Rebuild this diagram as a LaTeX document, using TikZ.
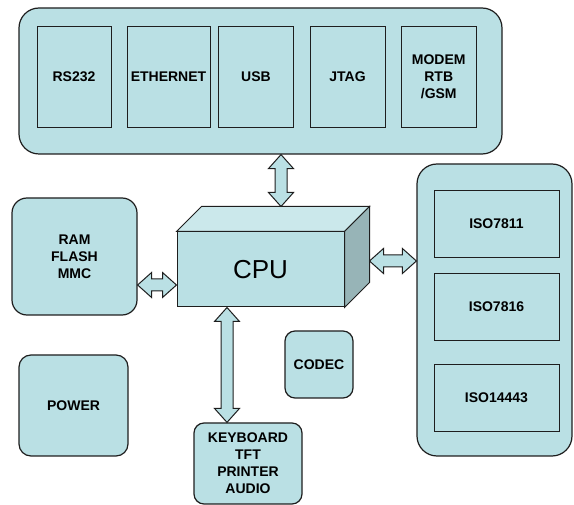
\documentclass[tikz,border=0pt]{standalone}
\usepackage{fontspec}
\setmainfont{Liberation Sans}
\usetikzlibrary{calc}
\definecolor{boxfill}{RGB}{186,224,228}
\definecolor{topfill}{RGB}{203,232,235}
\definecolor{sidefill}{RGB}{151,180,183}
\definecolor{edge}{RGB}{30,30,30}
\tikzset{
 every node/.style={font=\bfseries\fontsize{14}{17}\selectfont, align=center, inner sep=0pt},
 cont/.style={draw=edge, fill=boxfill, line width=1.2pt, rounded corners=20pt},
 rbox/.style={draw=edge, fill=boxfill, line width=1.2pt, rounded corners=#1},
 ibox/.style={draw=edge, fill=boxfill, line width=0.9pt},
 face/.style={draw=edge, line width=1pt, line join=miter},
 barrow/.style={draw=edge, fill=boxfill, line width=1pt, line join=miter},
}
\newcommand{\bahl}{14pt}
\newcommand{\bahw}{12.5pt}
\newcommand{\basw}{6pt}
\newcommand{\blockarrow}[2]{%
 \coordinate (ba1) at ($(#1)!\bahl!(#2)$);
 \coordinate (ba2) at ($(#2)!\bahl!(#1)$);
 \draw[barrow] (#1) -- ($(ba1)!\bahw!90:(#2)$) -- ($(ba1)!\basw!90:(#2)$)
   -- ($(ba2)!\basw!-90:(#1)$) -- ($(ba2)!\bahw!-90:(#1)$) -- (#2)
   -- ($(ba2)!\bahw!90:(#1)$) -- ($(ba2)!\basw!90:(#1)$)
   -- ($(ba1)!\basw!-90:(#2)$) -- ($(ba1)!\bahw!-90:(#2)$) -- cycle;
}
\begin{document}
\begin{tikzpicture}[x=1pt,y=-1pt]
\useasboundingbox (0,0) rectangle (574,505);
% top interface container
\node[cont, minimum width=483pt, minimum height=146pt] (ifc) at (260.5,81) {};
\node[ibox, minimum width=74pt, minimum height=101pt] (rs) at (74,76.5) {\raisebox{-4pt}{RS232}};
\node[ibox, minimum width=83pt, minimum height=101pt] (eth) at (168.5,76.5) {ETHERNET};
\node[ibox, minimum width=75pt, minimum height=101pt] (usb) at (256,76.5) {USB};
\node[ibox, minimum width=75pt, minimum height=101pt] (jtag) at (347.5,76.5) {JTAG};
\node[ibox, minimum width=74.5pt, minimum height=101pt] (modem) at (438.75,76.5) {MODEM\\RTB\\/GSM};
% CPU
\node[draw=edge, fill=boxfill, line width=1pt, minimum width=167pt, minimum height=75pt,
      font=\mdseries\fontsize{26}{30}\selectfont] (cpu) at (260.5,269.5) {CPU};
\filldraw[face, fill=topfill] (cpu.north west) -- ++(25,-25) -- ($(cpu.north east)+(25,-25)$) -- (cpu.north east) -- cycle;
\filldraw[face, fill=sidefill] (cpu.north east) -- ++(25,-25) -- ($(cpu.south east)+(25,-25)$) -- (cpu.south east) -- cycle;
% left blocks
\node[rbox=15pt, minimum width=125pt, minimum height=117pt] (ram) at (74.5,256.5) {RAM\\FLASH\\MMC};
\node[rbox=12pt, minimum width=109pt, minimum height=101pt] (power) at (73.5,405.5) {POWER};
\node[rbox=10pt, minimum width=68pt, minimum height=67pt] (codec) at (319,364.5) {CODEC};
\node[rbox=10pt, minimum width=108pt, minimum height=81pt] (kb) at (248,463.5) {KEYBOARD\\TFT\\PRINTER\\AUDIO};
% right ISO container
\node[cont, minimum width=155pt, minimum height=292pt] (iso) at (494.5,310) {};
\node[ibox, minimum width=125pt, minimum height=67pt] (iso1) at (496.5,223.5) {ISO7811};
\node[ibox, minimum width=125pt, minimum height=67pt] (iso2) at (496.5,306.5) {ISO7816};
\node[ibox, minimum width=125pt, minimum height=67pt] (iso3) at (496.5,397.5) {ISO14443};
% connector anchor points
\coordinate (cputop) at ($(cpu.north)+(20.5,-25)$);
\coordinate (ifcb) at (ifc.south -| cputop);
\coordinate (cpuright) at ($(cpu.east)+(25,-8.5)$);
\coordinate (isol) at (iso.west |- cpuright);
\coordinate (cpuleft) at ($(cpu.west)+(0,15.5)$);
\coordinate (ramr) at (ram.east |- cpuleft);
\coordinate (cpubot) at ($(cpu.south)+(-33.5,0)$);
\coordinate (kbt) at (kb.north -| cpubot);
% arrows
\blockarrow{ifcb}{cputop}
\blockarrow{cpuright}{isol}
\blockarrow{ramr}{cpuleft}
\blockarrow{cpubot}{kbt}
\end{tikzpicture}
\end{document}
